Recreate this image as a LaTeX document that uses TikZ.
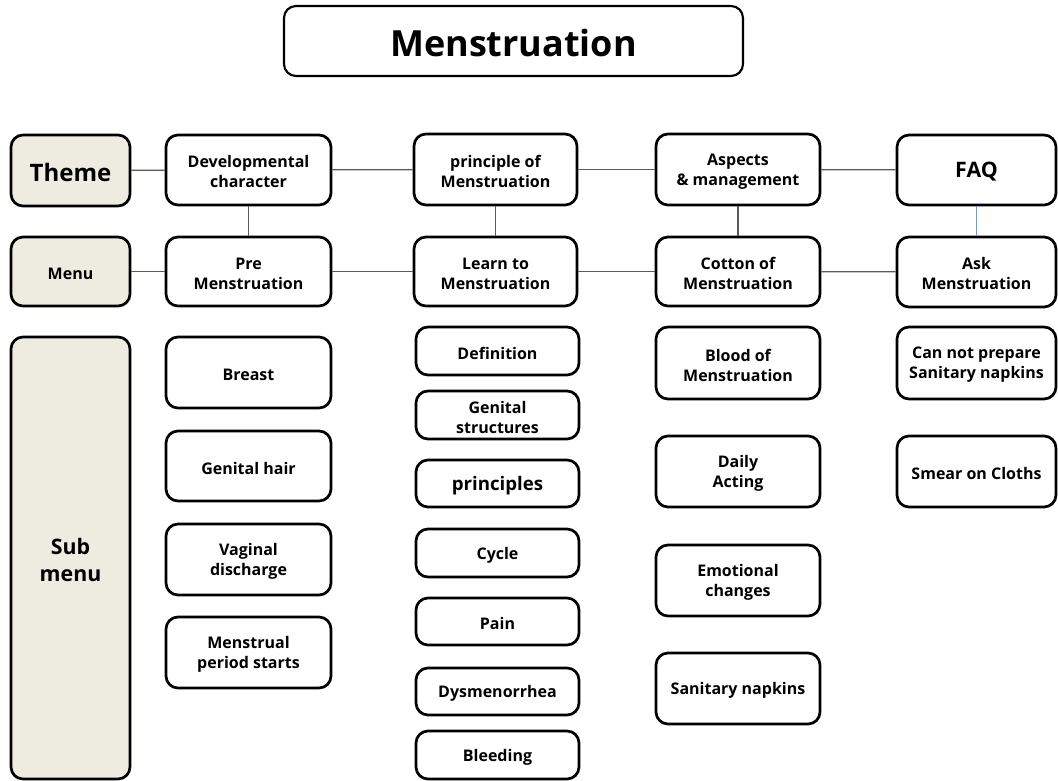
\documentclass[tikz,border=0pt]{standalone}
\usepackage{fontspec}
\setmainfont{Open Sans}
\definecolor{beige}{HTML}{EEEBE1}
\definecolor{conn}{HTML}{5A5A5A}
\definecolor{connblue}{HTML}{7A96C2}
\tikzset{
  box/.style={draw=black, line width=2pt, rounded corners=9pt, fill=white, inner sep=0pt},
  side/.style={box, fill=beige},
  lbl/.style={align=center, inner sep=0pt, font=\bfseries\fontsize{12}{15}\selectfont},
  link/.style={draw=conn, line width=1pt},
}
% \mybox[box style]{name}{x1}{y1}{x2}{y2}{text}
\newcommand\mybox[7][box]{%
  \node[#1, minimum width={(#5-#3)*0.75pt}, minimum height={(#6-#4)*0.75pt}] (#2) at ({(#3+#5)/2},{(#4+#6)/2}) {};%
  \node[lbl] (#2-t) at ({(#3+#5)/2},{(#4+#6)/2+2}) {#7};}
\newcommand\subfont{\fontsize{16}{21}\selectfont}
\begin{document}
\begin{tikzpicture}[x=0.75pt,y=-0.75pt]
\useasboundingbox (0,0) rectangle (1058,781);
% title
\mybox[box,line width=1.6pt]{title}{284}{6}{743}{76}{\fontsize{27}{30}\selectfont Menstruation}
% side column
\mybox[side]{theme}{11}{135}{130}{206}{\fontsize{18}{20}\selectfont Theme}
\mybox[side]{menu}{11}{237}{130}{306}{Menu}
\mybox[side]{sub}{11}{337}{130}{779}{\subfont Sub\\[5pt]\subfont menu}
% column 1
\mybox{dev}{166}{135}{331}{205}{Developmental\\character}
\mybox{pre}{166}{237}{331}{306}{Pre\\Menstruation}
\mybox{breast}{166}{337}{331}{408}{Breast}
\mybox{hair}{166}{431}{331}{501}{Genital hair}
\mybox{vag}{166}{524}{331}{595}{Vaginal\\discharge}
\mybox{period}{166}{617}{331}{688}{Menstrual\\period starts}
% column 2
\mybox{princ}{414}{134}{577}{205}{principle of\\Menstruation}
\mybox{learn}{414}{237}{577}{306}{Learn to\\Menstruation}
\mybox{defn}{416}{327}{579}{375}{Definition}
\mybox{genstr}{416}{391}{579}{439}{Genital\\structures}
\mybox{princs}{416}{460}{579}{507}{\fontsize{14}{16}\selectfont principles}
\mybox{cycle}{416}{529}{579}{577}{Cycle}
\mybox{pain}{416}{598}{579}{645}{Pain}
\mybox{dysm}{416}{668}{579}{715}{Dysmenorrhea}
\mybox{bleed}{416}{731}{579}{779}{Bleeding}
% column 3
\mybox{aspects}{656}{134}{820}{205}{Aspects\\\& management}
\mybox{cotton}{656}{237}{820}{306}{Cotton of\\Menstruation}
\mybox{blood}{656}{327}{820}{399}{Blood of\\Menstruation}
\mybox{daily}{656}{436}{820}{507}{Daily\\Acting}
\mybox{emo}{656}{545}{820}{616}{Emotional\\changes}
\mybox{sanit}{656}{653}{820}{724}{Sanitary napkins}
% column 4
\mybox{faq}{897}{135}{1056}{205}{\fontsize{16}{18}\selectfont FAQ}
\mybox{ask}{897}{237}{1056}{307}{Ask\\Menstruation}
\mybox{cannot}{897}{327}{1056}{399}{Can not prepare\\Sanitary napkins}
\mybox{smear}{897}{436}{1056}{507}{Smear on Cloths}
% connectors
\draw[link] (theme) -- (dev);
\draw[link] (dev) -- (princ);
\draw[link] (princ) -- (aspects);
\draw[link] (aspects) -- (faq);
\draw[link] (menu) -- (pre);
\draw[link] (pre) -- (learn);
\draw[link] (learn) -- (cotton);
\draw[link] (cotton) -- (ask);
\draw[link] (dev) -- (pre);
\draw[link] (princ) -- (learn);
\draw[link] (aspects) -- (cotton);
\draw[draw=connblue, line width=0.8pt] (faq) -- (ask);
\end{tikzpicture}
\end{document}
